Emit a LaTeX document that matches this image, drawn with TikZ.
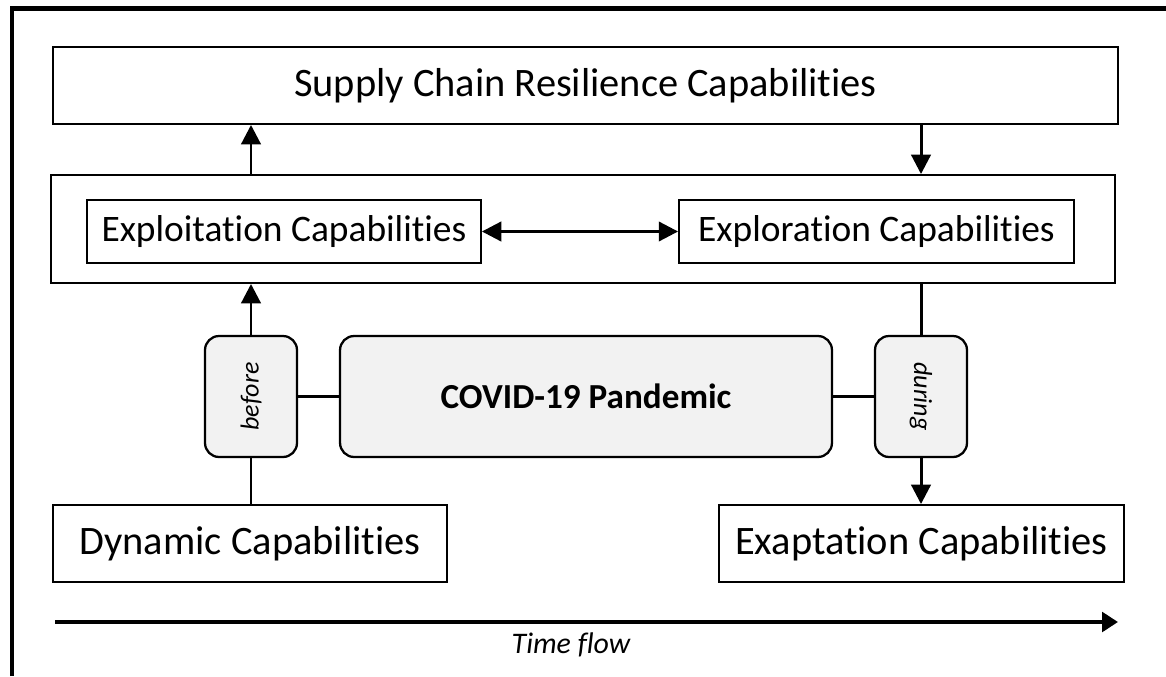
\documentclass[tikz,border=0pt]{standalone}
\usepackage{fontspec}
\setmainfont{Carlito}[Ligatures=NoCommon]
\usetikzlibrary{arrows.meta}
\begin{document}
\begin{tikzpicture}[x=0.02cm,y=-0.02cm,
  capbox/.style={draw,line width=1.1pt,inner sep=0pt,align=center},
  phase/.style={draw,line width=1.3pt,rounded corners=8pt,fill=black!5,inner sep=0pt},
  link/.style={line width=1.7pt},
  arr/.style={link,-{Triangle[length=11pt,width=11pt]}},
  big/.style={font=\fontsize{23}{28}\selectfont},
  mid/.style={font=\fontsize{21.3}{25}\selectfont}]
\useasboundingbox (0,0) rectangle (1166,676);
\draw[line width=2.8pt,line join=miter] (12,676) -- (12,8.5) -- (1166,8.5);
\node[capbox,big,minimum width=21.3cm,minimum height=1.54cm] (scrc) at (585.5,85.5) {Supply Chain Resilience Capabilities};
\node[capbox,minimum width=21.28cm,minimum height=2.16cm] (ambi) at (583,229) {};
\node[capbox,mid,minimum width=7.88cm,minimum height=1.26cm] (exploit) at (284,231.5) {Exploitation Capabilities};
\node[capbox,mid,minimum width=7.9cm,minimum height=1.26cm] (explor) at (876.5,231.5) {Exploration Capabilities};
\node[phase,minimum width=1.84cm,minimum height=2.42cm] (before) at (251,396.5) {};
\node[rotate=90,font=\fontsize{14.8}{17}\selectfont\itshape] at (before) {before};
\node[phase,minimum width=9.84cm,minimum height=2.42cm,font=\fontsize{20}{24}\selectfont\bfseries] (covid) at (586,396.5) {COVID-19 Pandemic};
\node[phase,minimum width=1.84cm,minimum height=2.42cm] (during) at (921,396.5) {};
\node[rotate=-90,font=\fontsize{14.8}{17}\selectfont\itshape] at (during) {during};
\node[capbox,big,minimum width=7.88cm,minimum height=1.54cm] (dyn) at (250,543.5) {Dynamic Capabilities};
\node[capbox,big,minimum width=8.1cm,minimum height=1.54cm] (exapt) at (921.5,543.5) {Exaptation Capabilities};
\coordinate (t0) at (55,622);
\coordinate (t1) at (1118,622);
\node[font=\fontsize{17}{20}\selectfont\itshape] (time) at (571,645) {Time flow};
% links
\draw[link,{Triangle[length=11pt,width=11pt]}-{Triangle[length=11pt,width=11pt]}] (exploit) -- (explor);
\draw[link] (dyn.north -| before) -- (before.south);
\draw[arr] (before.north) -- (before.north |- ambi.south);
\draw[arr] (before.north |- ambi.north) -- (before.north |- scrc.south);
\draw[arr] (during.north |- scrc.south) -- (during.north |- ambi.north);
\draw[link] (ambi.south -| during) -- (during.north);
\draw[arr] (during.south) -- (during.south |- exapt.north);
\draw[link] (before) -- (covid);
\draw[link] (covid) -- (during);
\draw[line width=2.3pt,-{Triangle[length=9pt,width=11pt]}] (t0) -- (t1);
\end{tikzpicture}
\end{document}
